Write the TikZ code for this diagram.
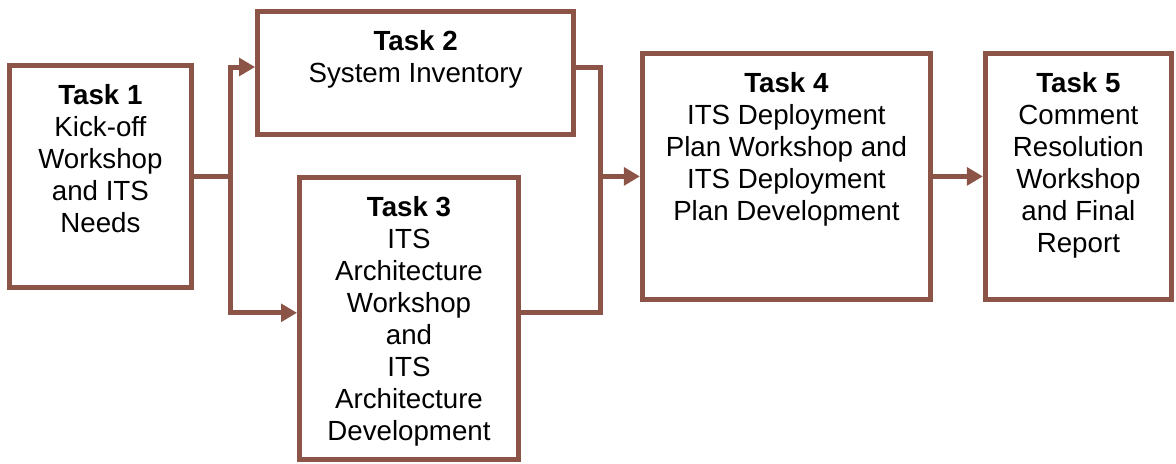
\documentclass[tikz,border=0pt]{standalone}
\usepackage{fontspec}
\setsansfont{Liberation Sans}
\usetikzlibrary{arrows.meta}
\definecolor{taskbrown}{RGB}{140,84,70}

\begin{document}
\begin{tikzpicture}[font=\sffamily\fontsize{19.7}{22.8}\selectfont,
		taskbox/.style={rectangle, draw=taskbrown, line width=0.125cm, fill=white},
		tasktext/.style={anchor=north, align=center, inner sep=0cm},
		flow/.style={draw=taskbrown, line width=0.125cm},
		flowtip/.style={-{Triangle[length=0.4cm, width=0.44cm]}}]
		\useasboundingbox (0cm, 0cm) rectangle (29.4cm, -11.6cm);

		% task 1
		\node (task1) at (2.51cm, -4.41cm) [taskbox, minimum width = 4.53cm, minimum height = 5.53cm] {};
		\node (text1) at ([yshift=-0.525cm]task1.north) [tasktext] {\textbf{Task 1}\\Kick-off\\Workshop\\and ITS\\Needs};

		% task 2
		\node (task2) at (10.39cm, -1.825cm) [taskbox, minimum width = 7.9cm, minimum height = 3.075cm] {};
		\node (text2) at ([yshift=-0.525cm]task2.north) [tasktext] {\textbf{Task 2}\\System Inventory};

		% task 3
		\node (task3) at (10.225cm, -7.96cm) [taskbox, minimum width = 5.475cm, minimum height = 7.05cm] {};
		\node (text3) at ([yshift=-0.525cm]task3.north) [tasktext] {\textbf{Task 3}\\ITS\\Architecture\\Workshop\\and\\ITS\\Architecture\\Development};

		% task 4
		\node (task4) at (19.66cm, -4.41cm) [taskbox, minimum width = 7.2cm, minimum height = 6.15cm] {};
		\node (text4) at ([yshift=-0.525cm]task4.north) [tasktext] {\textbf{Task 4}\\ITS Deployment\\Plan Workshop and\\ITS Deployment\\Plan Development};

		% task 5
		\node (task5) at (26.96cm, -4.41cm) [taskbox, minimum width = 4.65cm, minimum height = 6.15cm] {};
		\node (text5) at ([yshift=-0.525cm]task5.north) [tasktext] {\textbf{Task 5}\\Comment\\Resolution\\Workshop\\and Final\\Report};

		% split after task 1, merge before task 4
		\coordinate (split) at (5.75cm, -4.41cm);
		\coordinate (merge) at (15cm, -4.41cm);

		\draw [flow] (task1.east) -- (split);
		\draw [flow, flowtip] (split) |- ([yshift=0.15cm]task2.west);
		\draw [flow, flowtip] (split) |- ([yshift=0.14cm]task3.west);

		\draw [flow] ([yshift=0.15cm]task2.east) -| (merge);
		\draw [flow] ([yshift=0.14cm]task3.east) -| (merge);
		\draw [flow, flowtip] (merge) -- (task4.west);

		\draw [flow, flowtip] (task4.east) -- (task5.west);
	\end{tikzpicture}
\end{document}
